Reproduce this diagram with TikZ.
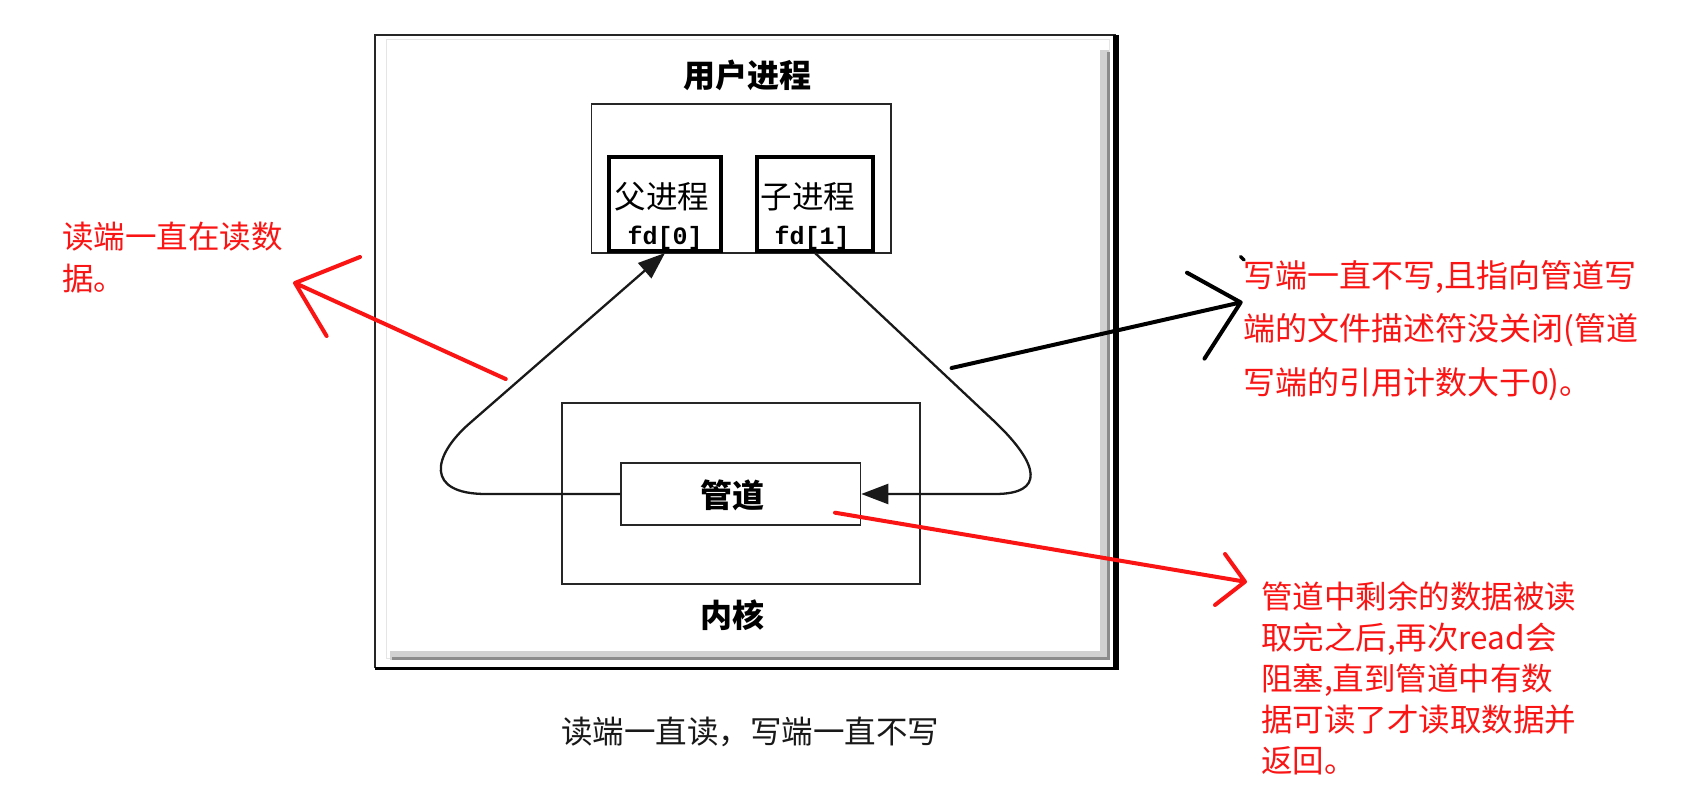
\documentclass[tikz,border=0pt]{standalone}
\usepackage{fontspec}
\setmainfont{Noto Sans CJK SC}
\newfontfamily\fdfont{Liberation Mono}
\usetikzlibrary{arrows.meta}
\definecolor{notered}{RGB}{250,20,20}

\begin{document}
\begin{tikzpicture}[x=1pt, y=-1pt,
    box/.style={draw=black!85, line width=1.5pt, inner sep=0pt},
    procbox/.style={draw=black, line width=4pt, inner sep=0pt},
    cjk/.style={inner sep=0pt, font=\fontsize{31.5}{36}\selectfont},
    cjkbold/.style={inner sep=0pt, font=\fontsize{32}{36}\selectfont\bfseries},
    fdlabel/.style={inner sep=0pt, font=\fontsize{25}{30}\selectfont\fdfont\bfseries},
    wire/.style={line width=2.3pt, black!90},
    flowtip/.style={-{Triangle[length=27pt, width=20pt]}},
    note/.style={inner sep=0pt, anchor=north west, align=left, text=notered},
    notearrow/.style={line width=4pt, line cap=round, line join=round}
  ]
    \useasboundingbox (0,0) rectangle (1708,802);

    % Screenshot frame and its shadow
    \draw[gray!20, line width=1pt] (386,40) rectangle (1109,658);
    \draw[black!18, line width=9pt] (1104,50) -- (1104,655.5) -- (390,655.5);
    \draw[black!45, line width=3pt] (1108,52) -- (1108,658.5) -- (392,658.5);
    \draw[black!85, line width=1.5pt] (1116,35) -- (375,35) -- (375,668);
    \draw[black, line width=6pt] (1116,35) -- (1116,668);
    \draw[black, line width=3pt] (375,668) -- (1119,668);

    % Boxes of the diagram
    \node[box, minimum width=299.5, minimum height=149] (user) at (741.25,178.5) {};
    \node[procbox, minimum width=112, minimum height=94] (parent) at (665,204) {};
    \node[procbox, minimum width=116, minimum height=94] (child) at (815,204) {};
    \node[box, line width=2pt, minimum width=358, minimum height=181] (kernel) at (741,493.5) {};
    \node[box, minimum width=239.5, minimum height=62] (pipe) at (740.75,494) {};

    % Box labels
    \node[cjkbold] (usertitle) at (747,75) {用户进程};
    \node[cjk] (parentname) at (662,197) {父进程};
    \node[fdlabel] (parentfd) at (665,238) {fd[0]};
    \node[cjk] (childname) at (808,197) {子进程};
    \node[fdlabel] (childfd) at (812,238) {fd[1]};
    \node[cjkbold] (pipename) at (732.5,495) {管道};
    \node[cjkbold] (kernelname) at (732.5,615.5) {内核};

    % Data flow through the pipe
    \draw[wire, flowtip] (pipe.west) -- (486,494) .. controls (425,494) and (432,456) .. (470,423) -- (parent.south);
    \draw[wire, flowtip] (child.south) -- (995,422) .. controls (1040,465) and (1045,494) .. (995,494) -- (pipe.east);

    % Hand drawn pointers
    \coordinate (readfrom) at (505.7,379);
    \coordinate (readtip) at (295,283);
    \coordinate (readbarbA) at (360,257);
    \coordinate (readbarbB) at (326.6,336);
    \draw[notearrow, notered] (readfrom) -- (readtip) -- (readbarbA) (readtip) -- (readbarbB);

    \coordinate (writefrom) at (951.6,368);
    \coordinate (writetip) at (1240.7,302.4);
    \coordinate (writebarbA) at (1187,272.7);
    \coordinate (writebarbB) at (1204.5,358.6);
    \draw[notearrow, black] (writefrom) -- (writetip) -- (writebarbA) (writetip) -- (writebarbB);
    \draw[black, line width=3.5pt, line cap=round] (1240.5,256.5) -- (1244,260);

    \coordinate (pipefrom) at (835,512.7);
    \coordinate (pipetip) at (1245,581.7);
    \coordinate (pipebarbA) at (1225,554);
    \coordinate (pipebarbB) at (1215,605);
    \draw[notearrow, notered] (pipefrom) -- (pipetip) -- (pipebarbA) (pipetip) -- (pipebarbB);

    % Notes
    \node[note, font=\fontsize{31.5}{41.5}\selectfont] (readnote) at (62,222) {读端一直在读数\\据。};
    \node[note, font=\fontsize{32}{53.5}\selectfont] (writenote) at (1243,260) {写端一直不写,且指向管道写\\端的文件描述符没关闭(管道\\写端的引用计数大于0)。};
    \node[note, font=\fontsize{31.5}{41}\selectfont] (pipenote) at (1261,582) {管道中剩余的数据被读\\取完之后,再次read会\\阻塞,直到管道中有数\\据可读了才读取数据并\\返回。};

    % Caption
    \node[cjk, text=black!90] (caption) at (750,731.7) {读端一直读，写端一直不写};
\end{tikzpicture}
\end{document}
